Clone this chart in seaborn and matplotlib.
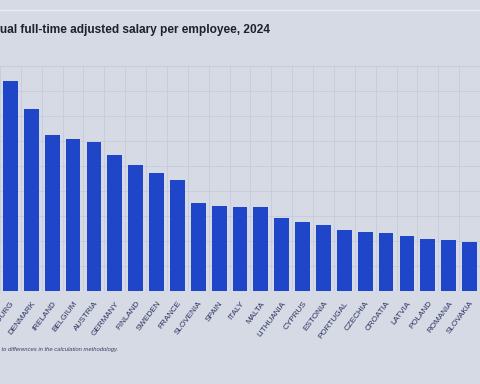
import matplotlib
matplotlib.use("Agg")
import matplotlib.pyplot as plt
import seaborn as sns
import pandas as pd
from matplotlib.lines import Line2D

countries = ["LUXEMBOURG", "DENMARK", "IRELAND", "BELGIUM", "AUSTRIA", "GERMANY",
             "FINLAND", "SWEDEN", "FRANCE", "SLOVENIA", "SPAIN", "ITALY", "MALTA",
             "LITHUANIA", "CYPRUS", "ESTONIA", "PORTUGAL", "CZECHIA", "CROATIA",
             "LATVIA", "POLAND", "ROMANIA", "SLOVAKIA"]
salary = [84000, 72800, 62400, 60800, 59600, 54400, 50400, 47200, 44400, 35200,
          34000, 33600, 33600, 29400, 27600, 26400, 24400, 23800, 23200, 22000,
          21000, 20600, 19800]

title = "Average annual full-time adjusted salary per employee, 2024"
footnote = "Data are not fully comparable due to differences in the calculation methodology."

sns.set_theme(style="white")
fam = ["Liberation Sans", "DejaVu Sans"]
plt.rcParams["font.family"] = fam

bg = "#d5dae4"
bar_color = "#1f45c8"

W, H = 480, 384
fig = plt.figure(figsize=(4.8, 3.84), dpi=100, facecolor=bg)
ax_bottom = 291
ax_top = 66
ax = fig.add_axes([0, 1 - ax_bottom / H, 1, (ax_bottom - ax_top) / H])
ax.set_facecolor(bg)

df = pd.DataFrame({"country": countries, "salary": salary})
sns.barplot(data=df, x="country", y="salary", color=bar_color, saturation=1,
            width=0.71, linewidth=0, edgecolor=bar_color, ax=ax, zorder=3)

ax.set_xlim(-0.379, 22.38)
ax.set_ylim(0, 90000)
ax.set_yticks(range(0, 90001, 10000))
ax.set_xticks([i - 0.5 for i in range(len(countries) + 1)], minor=True)
ax.grid(axis="y", color="#c2c8da", linewidth=0.5, zorder=0)
ax.grid(axis="x", which="minor", color="#c2c8da", linewidth=0.5, zorder=0)
ax.tick_params(axis="y", left=False, labelleft=False)
ax.tick_params(axis="x", which="both", bottom=False, pad=0.5)
ax.set_xlabel("")
ax.set_ylabel("")
for s in ax.spines.values():
    s.set_visible(False)
ax.set_xticks(range(len(countries)))
ax.set_xticklabels(countries, rotation=53, ha="right", rotation_mode="anchor",
                   fontsize=5.9, color="#2b3160", family=fam)

fig.text(270 / W, 1 - 30 / H, title, ha="right", va="center", fontsize=8.6,
         fontweight="bold", color="#1d2130", family=fam)
fig.text(118 / W, 1 - 349 / H, footnote, ha="right", va="center", fontsize=4.2,
         style="italic", color="#3a4066", family=fam)
fig.add_artist(Line2D([0, 1], [1 - 10 / H, 1 - 10 / H], transform=fig.transFigure,
                      color="#eceef3", linewidth=1.0))

fig.savefig("out.png", dpi=100, facecolor=bg)
